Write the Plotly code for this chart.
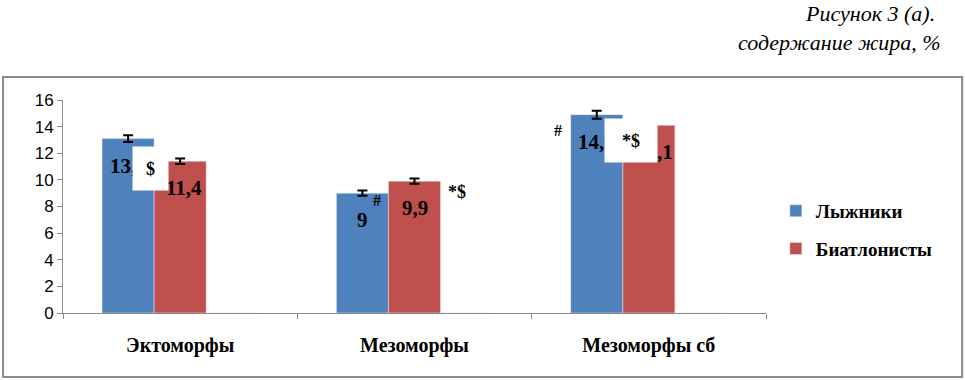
import plotly.graph_objects as go

categories = ["Эктоморфы", "Мезоморфы", "Мезоморфы сб"]
series_names = ["Лыжники", "Биатлонисты"]
skiers = [13.1, 9.0, 14.9]
biathletes = [11.4, 9.9, 14.1]
skiers_err = [0.25, 0.2, 0.3]
biathletes_err = [0.2, 0.2, 0.2]
skiers_labels = ["13,1", "9", "14,9"]
biathletes_labels = ["11,4", "9,9", "14,1"]
y_ticks = [0, 2, 4, 6, 8, 10, 12, 14, 16]
title_lines = ["Рисунок 3 (а).", "содержание жира, %"]

BLUE = "#4F81BD"
RED = "#C0504D"
SERIF = "Liberation Serif, Times New Roman, serif"

fig = go.Figure()
fig.add_trace(go.Bar(x=categories, y=skiers, name="<b>%s</b>" % series_names[0], marker_color=BLUE,
                     legendgroup="a",
                     error_y=dict(type="data", array=skiers_err, visible=True, color="black",
                                  thickness=2, width=5)))
fig.add_trace(go.Bar(x=categories, y=biathletes, name="<b>%s</b>" % series_names[1], marker_color=RED,
                     legendgroup="b",
                     error_y=dict(type="data", array=biathletes_err, visible=True, color="black",
                                  thickness=2, width=5)))
# empty third series slot (as in the original spreadsheet chart)
fig.add_trace(go.Bar(x=categories, y=[0, 0, 0], showlegend=False, marker_color="rgba(0,0,0,0)",
                     hoverinfo="skip"))

ann = []
lab_font = dict(family=SERIF, size=21, color="black")
red_xshift = [4, 0, 6]
for i, c in enumerate(categories):
    ann.append(dict(x=c, y=skiers[i], text="<b>%s</b>" % skiers_labels[i], showarrow=False,
                    xshift=-52, yshift=-13, yanchor="top", font=lab_font))
    ann.append(dict(x=c, y=biathletes[i], text="<b>%s</b>" % biathletes_labels[i], showarrow=False,
                    xshift=red_xshift[i], yshift=-13, yanchor="top", font=lab_font))

mark_font = dict(family=SERIF, size=18, color="black")
# white boxes with significance marks
ann.append(dict(x=categories[0], y=skiers[0], text="<b>$</b>", showarrow=False, xshift=-30,
                yshift=-7, yanchor="top", width=33, height=41, bgcolor="white", font=mark_font,
                valign="middle"))
ann.append(dict(x=categories[2], y=skiers[2], text="<b>*$</b>", showarrow=False, xshift=-18,
                yshift=-3, yanchor="top", width=50, height=41, bgcolor="white", font=mark_font,
                valign="middle"))
ann.append(dict(x=categories[1], y=skiers[1], text="<b>#</b>", showarrow=False, xshift=-38,
                yshift=-7, yanchor="middle", font=dict(family=SERIF, size=16, color="black")))
ann.append(dict(x=categories[1], y=biathletes[1], text="<b>*$</b>", showarrow=False, xshift=42,
                yshift=-11, yanchor="middle", font=mark_font))
ann.append(dict(x=categories[2], y=skiers[2], text="<b>#</b>", showarrow=False, xshift=-91,
                yshift=-16, yanchor="middle", font=dict(family=SERIF, size=16, color="black")))

# title lines (top right, italic)
ann.append(dict(xref="paper", yref="paper", x=1.243, y=1.408, xanchor="right", yanchor="middle",
                text="<i>%s</i>" % title_lines[0], showarrow=False,
                font=dict(family=SERIF, size=22, color="black")))
ann.append(dict(xref="paper", yref="paper", x=1.252, y=1.272, xanchor="right", yanchor="middle",
                text="<i>%s</i>" % title_lines[1], showarrow=False,
                font=dict(family=SERIF, size=22, color="black")))

fig.update_layout(
    width=965, height=380,
    margin=dict(l=63, r=199, t=100, b=67),
    paper_bgcolor="white", plot_bgcolor="white",
    barmode="group", bargap=1/3, bargroupgap=0,
    annotations=ann,
    showlegend=True,
    legend=dict(x=1.014, y=0.39, xanchor="left", yanchor="middle",
                font=dict(family=SERIF, size=19, color="black"), tracegroupgap=10,
                itemwidth=30),
    shapes=[dict(type="rect", xref="paper", yref="paper", x0=-0.0853, x1=1.279, y0=-0.30, y1=1.108,
                 line=dict(color="#8c8c8c", width=2), layer="below")],
)
fig.update_xaxes(range=[-0.5, 2.5], showline=True, linecolor="#8c8c8c", linewidth=1,
                 ticks="outside", tickson="boundaries", ticklen=5, tickcolor="#8c8c8c",
                 showgrid=False, tickfont=dict(family=SERIF, size=20, color="black"),
                 tickprefix="<b>", ticksuffix="</b>", ticklabelstandoff=14)
fig.update_yaxes(range=[0, 16], tickvals=y_ticks, showline=True, linecolor="#8c8c8c", linewidth=1,
                 ticks="outside", ticklen=5, tickcolor="#8c8c8c", showgrid=False, zeroline=False,
                 tickfont=dict(family="Liberation Sans, Arial", size=17, color="black"))

fig.write_html("out.html", config={"displayModeBar": False},
               post_script="document.body.style.margin='0';document.body.style.overflow='hidden';")
